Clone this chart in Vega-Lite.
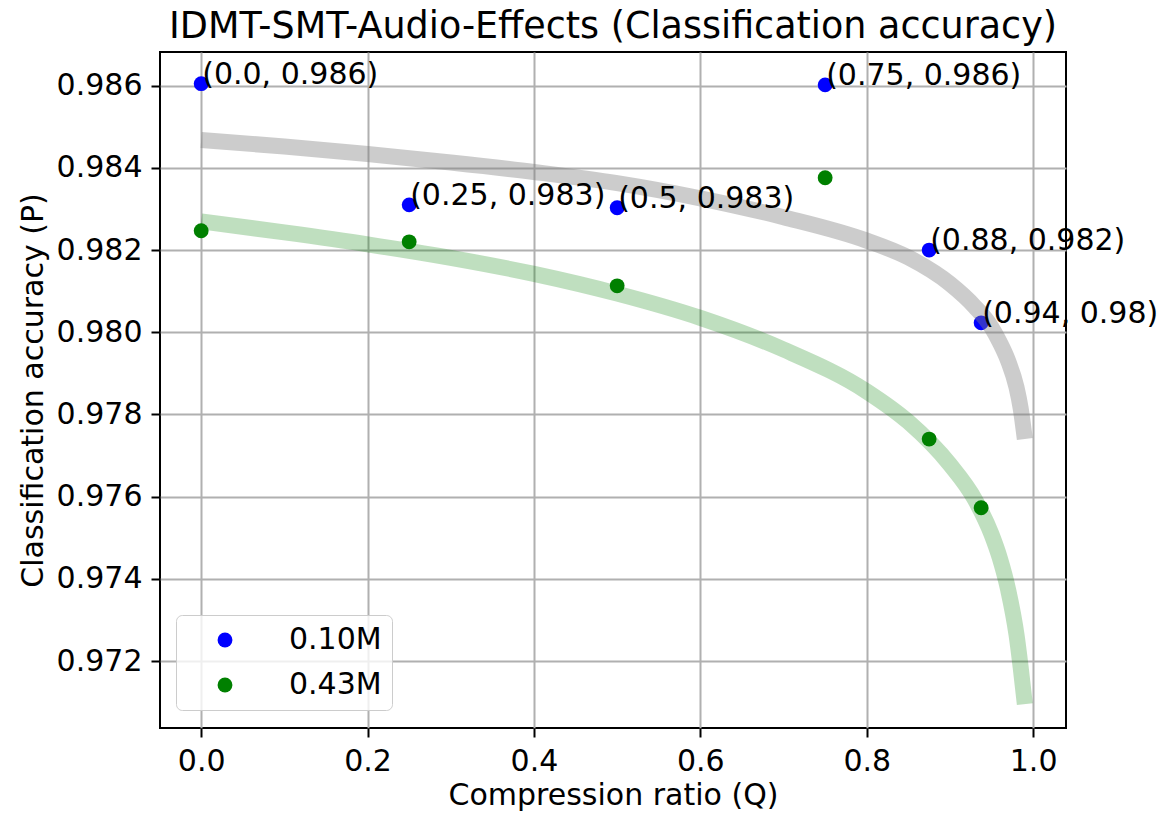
{
  "$schema": "https://vega.github.io/schema/vega-lite/v6.json",
  "width": 906,
  "height": 676,
  "autosize": {"type": "none"},
  "padding": {"left": 160, "top": 52, "right": 97, "bottom": 87},
  "background": "white",
  "title": {
    "text": "IDMT-SMT-Audio-Effects (Classification accuracy)",
    "fontSize": 36.5,
    "font": "DejaVu Sans",
    "fontWeight": "normal",
    "color": "black",
    "offset": 7,
    "anchor": "middle"
  },
  "config": {
    "font": "DejaVu Sans",
    "view": {"stroke": "black", "strokeWidth": 2},
    "axis": {
      "domain": false,
      "grid": true,
      "gridColor": "#b0b0b0",
      "gridWidth": 2,
      "tickColor": "black",
      "tickWidth": 2,
      "tickSize": 9,
      "labelFont": "DejaVu Sans",
      "labelFontSize": 30,
      "labelColor": "black",
      "labelPadding": 9,
      "titleFont": "DejaVu Sans",
      "titleFontSize": 30,
      "titleFontWeight": "normal",
      "titleColor": "black"
    }
  },
  "datasets": {
    "points": [
      {"Q": 0, "P": 0.98605, "model": "0.10M", "label": "(0.0, 0.986)"},
      {"Q": 0.25, "P": 0.9831, "model": "0.10M", "label": "(0.25, 0.983)"},
      {"Q": 0.5, "P": 0.98303, "model": "0.10M", "label": "(0.5, 0.983)"},
      {"Q": 0.75, "P": 0.98602, "model": "0.10M", "label": "(0.75, 0.986)"},
      {"Q": 0.875, "P": 0.982, "model": "0.10M", "label": "(0.88, 0.982)"},
      {"Q": 0.9375, "P": 0.98023, "model": "0.10M", "label": "(0.94, 0.98)"},
      {"Q": 0, "P": 0.98247, "model": "0.43M", "label": ""},
      {"Q": 0.25, "P": 0.9822, "model": "0.43M", "label": ""},
      {"Q": 0.5, "P": 0.98113, "model": "0.43M", "label": ""},
      {"Q": 0.75, "P": 0.98376, "model": "0.43M", "label": ""},
      {"Q": 0.875, "P": 0.9774, "model": "0.43M", "label": ""},
      {"Q": 0.9375, "P": 0.97573, "model": "0.43M", "label": ""}
    ],
    "curves": [
      {"Q": 0, "P": 0.98468, "fit": "0.10M"},
      {"Q": 0.1, "P": 0.98452, "fit": "0.10M"},
      {"Q": 0.2, "P": 0.98434, "fit": "0.10M"},
      {"Q": 0.3, "P": 0.98413, "fit": "0.10M"},
      {"Q": 0.4, "P": 0.9839, "fit": "0.10M"},
      {"Q": 0.5, "P": 0.98363, "fit": "0.10M"},
      {"Q": 0.6, "P": 0.98326, "fit": "0.10M"},
      {"Q": 0.7, "P": 0.9828, "fit": "0.10M"},
      {"Q": 0.8, "P": 0.98223, "fit": "0.10M"},
      {"Q": 0.85, "P": 0.98182, "fit": "0.10M"},
      {"Q": 0.9, "P": 0.98118, "fit": "0.10M"},
      {"Q": 0.93, "P": 0.98062, "fit": "0.10M"},
      {"Q": 0.95, "P": 0.98012, "fit": "0.10M"},
      {"Q": 0.96, "P": 0.97975, "fit": "0.10M"},
      {"Q": 0.97, "P": 0.9793, "fit": "0.10M"},
      {"Q": 0.98, "P": 0.97866, "fit": "0.10M"},
      {"Q": 0.985, "P": 0.97815, "fit": "0.10M"},
      {"Q": 0.99, "P": 0.9774, "fit": "0.10M"},
      {"Q": 0, "P": 0.9827, "fit": "0.43M"},
      {"Q": 0.1, "P": 0.98243, "fit": "0.43M"},
      {"Q": 0.2, "P": 0.98214, "fit": "0.43M"},
      {"Q": 0.3, "P": 0.98181, "fit": "0.43M"},
      {"Q": 0.4, "P": 0.98142, "fit": "0.43M"},
      {"Q": 0.5, "P": 0.98094, "fit": "0.43M"},
      {"Q": 0.6, "P": 0.98035, "fit": "0.43M"},
      {"Q": 0.7, "P": 0.97958, "fit": "0.43M"},
      {"Q": 0.8, "P": 0.97856, "fit": "0.43M"},
      {"Q": 0.85, "P": 0.97782, "fit": "0.43M"},
      {"Q": 0.9, "P": 0.97678, "fit": "0.43M"},
      {"Q": 0.93, "P": 0.97593, "fit": "0.43M"},
      {"Q": 0.95, "P": 0.97508, "fit": "0.43M"},
      {"Q": 0.96, "P": 0.9745, "fit": "0.43M"},
      {"Q": 0.97, "P": 0.97373, "fit": "0.43M"},
      {"Q": 0.98, "P": 0.97264, "fit": "0.43M"},
      {"Q": 0.985, "P": 0.97185, "fit": "0.43M"},
      {"Q": 0.99, "P": 0.97095, "fit": "0.43M"}
    ]
  },
  "layer": [
    {
      "data": {"name": "points"},
      "mark": {"type": "point", "filled": true, "opacity": 1, "size": 220, "shape": "circle"},
      "encoding": {
        "x": {
          "field": "Q",
          "type": "quantitative",
          "scale": {"domain": [-0.0495, 1.0395], "nice": false, "zero": false},
          "axis": {"title": "Compression ratio (Q)", "values": [0, 0.2, 0.4, 0.6, 0.8, 1.0], "format": ".1f", "titlePadding": 4}
        },
        "y": {
          "field": "P",
          "type": "quantitative",
          "scale": {"domain": [0.97037, 0.98682], "nice": false, "zero": false},
          "axis": {"title": "Classification accuracy (P)", "values": [0.972, 0.974, 0.976, 0.978, 0.98, 0.982, 0.984, 0.986], "format": ".3f", "titlePadding": 8}
        },
        "color": {
          "field": "model",
          "type": "nominal",
          "scale": {"domain": ["0.10M", "0.43M"], "range": ["#0000ff", "#008000"]},
          "legend": {
            "title": null,
            "orient": "none",
            "legendX": 16,
            "legendY": 563,
            "padding": 10,
            "fillColor": "rgba(255,255,255,0.8)",
            "strokeColor": "#cccccc",
            "cornerRadius": 6,
            "labelFont": "DejaVu Sans",
            "labelFontSize": 30,
            "labelColor": "black",
            "symbolSize": 220,
            "symbolType": "circle",
            "symbolOpacity": 1,
            "symbolStrokeWidth": 0,
            "symbolOffset": 24,
            "labelOffset": 49,
            "rowPadding": 15
          }
        }
      }
    },
    {
      "data": {"name": "curves"},
      "transform": [{"filter": "datum.fit === '0.10M'"}],
      "mark": {"type": "line", "color": "#808080", "opacity": 0.4, "strokeWidth": 16, "strokeCap": "butt", "interpolate": "monotone"},
      "encoding": {
        "x": {"field": "Q", "type": "quantitative"},
        "y": {"field": "P", "type": "quantitative"}
      }
    },
    {
      "data": {"name": "curves"},
      "transform": [{"filter": "datum.fit === '0.43M'"}],
      "mark": {"type": "line", "color": "#008000", "opacity": 0.25, "strokeWidth": 16, "strokeCap": "butt", "interpolate": "monotone"},
      "encoding": {
        "x": {"field": "Q", "type": "quantitative"},
        "y": {"field": "P", "type": "quantitative"}
      }
    },
    {
      "data": {"name": "points"},
      "transform": [{"filter": "datum.label !== ''"}],
      "mark": {"type": "text", "align": "left", "baseline": "alphabetic", "dx": 1, "fontSize": 30, "font": "DejaVu Sans", "color": "black"},
      "encoding": {
        "x": {"field": "Q", "type": "quantitative"},
        "y": {"field": "P", "type": "quantitative"},
        "text": {"field": "label"}
      }
    }
  ]
}
